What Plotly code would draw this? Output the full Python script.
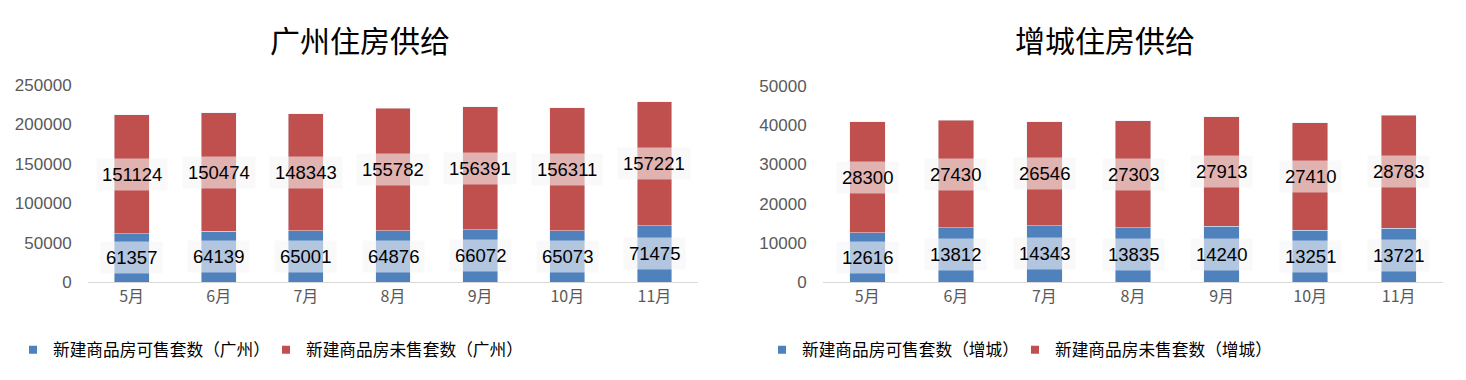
import plotly.graph_objects as go

months = ['5月', '6月', '7月', '8月', '9月', '10月', '11月']
gz_avail = [61357, 64139, 65001, 64876, 66072, 65073, 71475]
gz_unsold = [151124, 150474, 148343, 155782, 156391, 156311, 157221]
zc_avail = [12616, 13812, 14343, 13835, 14240, 13251, 13721]
zc_unsold = [28300, 27430, 26546, 27303, 27913, 27410, 28783]

BLUE = '#4F81BD'
RED = '#C0504D'
CJK = 'Noto Sans CJK SC'
NUM = 'Liberation Sans, Noto Sans CJK SC'

W, H, OFF = 1466, 380, 8  # page body offset compensation


def px_x(x):
    return (x - OFF) / W


def px_y(y):
    return 1 - (y - OFF) / H


fig = go.Figure()


def add_chart(avail, unsold, xa, ya, leg, city):
    fig.add_trace(go.Bar(x=months, y=avail, marker_color=BLUE, xaxis=xa, yaxis=ya,
                         showlegend=False, hoverinfo='x+y'))
    fig.add_trace(go.Bar(x=months, y=unsold, marker_color=RED, xaxis=xa, yaxis=ya,
                         showlegend=False, hoverinfo='x+y'))
    # legend entries
    fig.add_trace(go.Scatter(x=[None], y=[None], mode='markers', xaxis=xa, yaxis=ya,
                             marker=dict(symbol='square', size=8, color=BLUE),
                             name=f'新建商品房可售套数（{city}）', legend=leg))
    fig.add_trace(go.Scatter(x=[None], y=[None], mode='markers', xaxis=xa, yaxis=ya,
                             marker=dict(symbol='square', size=8, color=RED),
                             name=f'新建商品房未售套数（{city}）', legend=leg))
    for m, a, u in zip(months, avail, unsold):
        fig.add_annotation(x=m, y=a / 2, xref=xa, yref=ya, text=str(a), showarrow=False,
                           font=dict(family=NUM, size=18.5, color='#000000'),
                           bgcolor='rgba(245,245,245,0.6)', borderpad=5)
        fig.add_annotation(x=m, y=a + u / 2, xref=xa, yref=ya, text=str(u), showarrow=False,
                           font=dict(family=NUM, size=18.5, color='#000000'),
                           bgcolor='rgba(245,245,245,0.6)', borderpad=5)


add_chart(gz_avail, gz_unsold, 'x', 'y', 'legend', '广州')
add_chart(zc_avail, zc_unsold, 'x2', 'y2', 'legend2', '增城')

axis_x = dict(showgrid=False, showline=True, linecolor='#D9D9D9', linewidth=1,
              ticks='', automargin=False,
              tickfont=dict(family=CJK, size=16, color='#595959'))
axis_y = dict(showgrid=False, zeroline=False, showline=False, tickformat='d',
              ticks='outside', ticklen=12, tickcolor='rgba(0,0,0,0)', automargin=False,
              tickfont=dict(family=NUM, size=17, color='#595959'))

leg_font = dict(family=CJK, size=16.7, color='#000000')

fig.update_layout(
    width=W, height=H,
    margin=dict(l=0, r=0, t=0, b=0, autoexpand=False),
    paper_bgcolor='white', plot_bgcolor='white',
    barmode='stack', bargap=0.6,
    xaxis=dict(domain=[px_x(88), px_x(698)], **axis_x),
    yaxis=dict(domain=[px_y(282), px_y(85)], range=[0, 250000], dtick=50000, **axis_y),
    xaxis2=dict(domain=[px_x(823), px_x(1443)], anchor='y2', **axis_x),
    yaxis2=dict(domain=[px_y(282), px_y(86)], range=[0, 50000], dtick=10000, anchor='x2', **axis_y),
    legend=dict(orientation='h', x=px_x(13), y=px_y(350), xanchor='left', yanchor='middle',
                traceorder='normal', entrywidth=208, font=leg_font, bgcolor='rgba(0,0,0,0)'),
    legend2=dict(orientation='h', x=px_x(762), y=px_y(350), xanchor='left', yanchor='middle',
                 traceorder='normal', entrywidth=208, font=leg_font, bgcolor='rgba(0,0,0,0)'),
    annotations=list(fig.layout.annotations) + [
        dict(text='广州住房供给', x=px_x(360), y=px_y(39), xref='paper', yref='paper',
             xanchor='center', yanchor='middle', showarrow=False,
             font=dict(family=CJK, size=30, color='#000000')),
        dict(text='增城住房供给', x=px_x(1105), y=px_y(39), xref='paper', yref='paper',
             xanchor='center', yanchor='middle', showarrow=False,
             font=dict(family=CJK, size=30, color='#000000')),
    ],
)

fig.write_html('out.html')
